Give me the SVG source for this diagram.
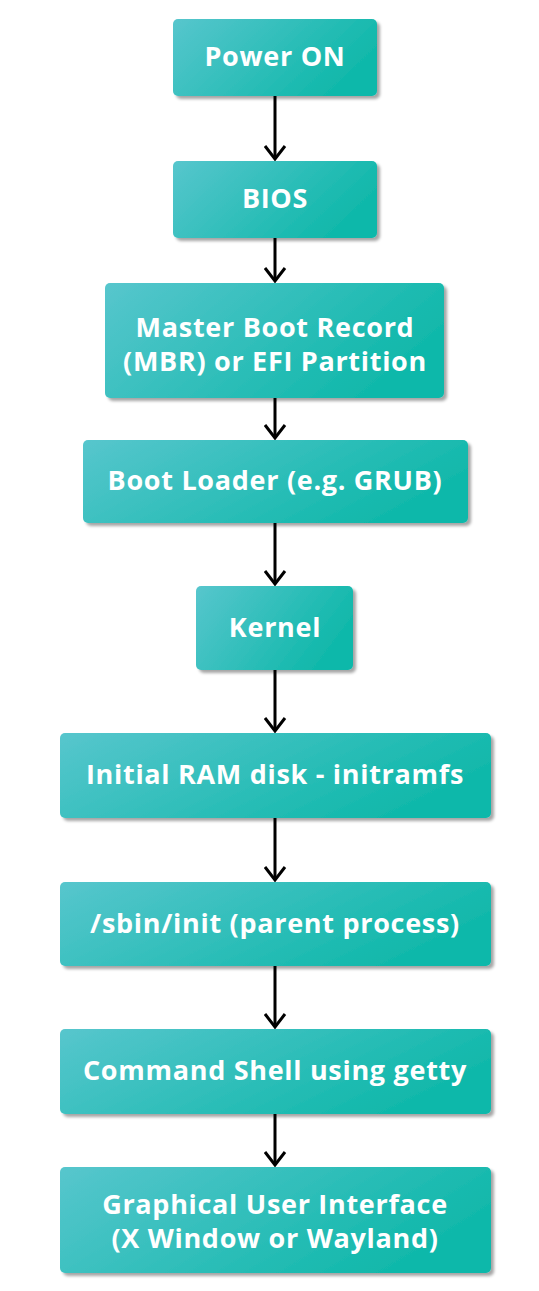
<svg xmlns="http://www.w3.org/2000/svg" width="539" height="1291" viewBox="0 0 539 1291">
<style>
.box{fill:url(#g);filter:url(#sh)}
.t{font-family:"Open Sans","Liberation Sans",sans-serif;font-weight:700;font-size:27px;letter-spacing:0.7px;fill:#ffffff;text-anchor:middle}
.c{stroke:#000;stroke-width:3;fill:none}
</style>
<defs>
<linearGradient id="g" x1="0" y1="0" x2="1" y2="0.4">
<stop offset="0" stop-color="#57c6cd"/>
<stop offset="1" stop-color="#10b8aa"/>
</linearGradient>
<filter id="sh" x="-10%" y="-10%" width="125%" height="130%">
<feDropShadow dx="3" dy="3" stdDeviation="1.5" flood-color="#000" flood-opacity="0.35"/>
</filter>
<marker id="a" markerWidth="24" markerHeight="16" refX="11" refY="14" markerUnits="userSpaceOnUse" orient="0">
<path d="M1,1 L11,14 L21,1" class="c"/>
</marker>
</defs>
<g id="connectors">
<line class="c" x1="275" y1="96" x2="275" y2="159" marker-end="url(#a)"/>
<line class="c" x1="275" y1="238" x2="275" y2="281" marker-end="url(#a)"/>
<line class="c" x1="275" y1="398" x2="275" y2="438" marker-end="url(#a)"/>
<line class="c" x1="275" y1="523" x2="275" y2="584" marker-end="url(#a)"/>
<line class="c" x1="275" y1="670" x2="275" y2="731" marker-end="url(#a)"/>
<line class="c" x1="275" y1="818" x2="275" y2="880" marker-end="url(#a)"/>
<line class="c" x1="275" y1="966" x2="275" y2="1027" marker-end="url(#a)"/>
<line class="c" x1="275" y1="1114" x2="275" y2="1165" marker-end="url(#a)"/>
</g>
<g id="n1"><rect class="box" x="173" y="19" width="204" height="77" rx="5"/><text class="t" x="275" y="66">Power ON</text></g>
<g id="n2"><rect class="box" x="173" y="161" width="204" height="77" rx="5"/><text class="t" x="275" y="208">BIOS</text></g>
<g id="n3"><rect class="box" x="105" y="283" width="339" height="115" rx="5"/><text class="t" x="275" y="337">Master Boot Record</text><text class="t" x="275" y="371">(MBR) or EFI Partition</text></g>
<g id="n4"><rect class="box" x="83" y="440" width="385" height="83" rx="5"/><text class="t" x="275" y="490">Boot Loader (e.g. GRUB)</text></g>
<g id="n5"><rect class="box" x="196" y="586" width="157" height="84" rx="5"/><text class="t" x="275" y="637">Kernel</text></g>
<g id="n6"><rect class="box" x="60" y="733" width="431" height="85" rx="5"/><text class="t" x="275" y="784">Initial RAM disk - initramfs</text></g>
<g id="n7"><rect class="box" x="60" y="882" width="431" height="84" rx="5"/><text class="t" x="275" y="933">/sbin/init (parent process)</text></g>
<g id="n8"><rect class="box" x="60" y="1029" width="431" height="85" rx="5"/><text class="t" x="275" y="1080">Command Shell using getty</text></g>
<g id="n9"><rect class="box" x="60" y="1167" width="431" height="106" rx="5"/><text class="t" x="275" y="1214">Graphical User Interface</text><text class="t" x="275" y="1248">(X Window or Wayland)</text></g>
</svg>
